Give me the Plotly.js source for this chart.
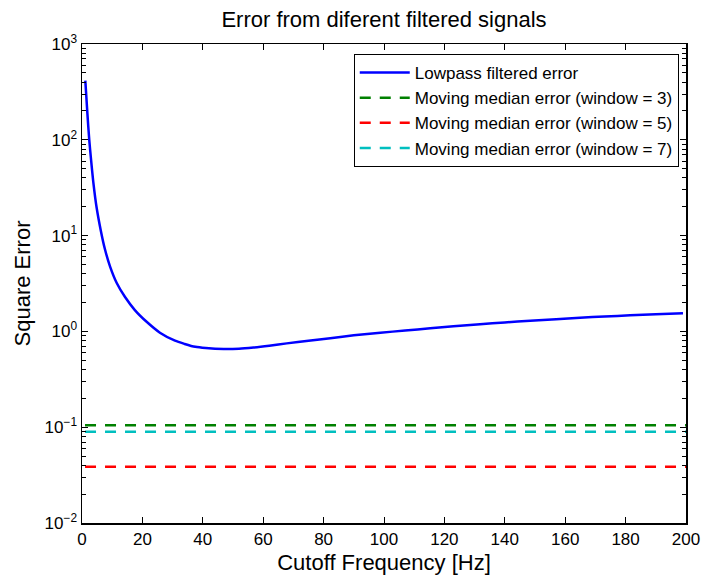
<!DOCTYPE html>
<html>
<head>
<meta charset="utf-8">
<script src="https://cdn.plot.ly/plotly-3.0.1.min.js"></script>
<style>html,body{margin:0;padding:0;background:#fff;}#chart{width:702px;height:577px;}</style>
</head>
<body>
<div id="chart"></div>
<script>
// Lowpass filtered error
var cutoffHz = [1.1, 1.8, 2.4, 3.0, 3.75, 4.85, 6.2, 7.6, 9.3, 11.5, 14.2, 17.5, 21.4, 25.8, 30.8, 34, 37.5, 41, 46.9, 52, 56.8, 62, 67.8, 75, 82.2, 90, 98.8, 107, 115.3, 123, 131.8, 140, 148.4, 157, 164.9, 173, 181.5, 190, 199];
var lowpassErr = [414, 185, 100, 62, 36, 19.5, 11.4, 7.2, 4.75, 3.2, 2.3, 1.67, 1.26, 0.97, 0.80, 0.74, 0.69, 0.67, 0.655, 0.66, 0.68, 0.71, 0.75, 0.80, 0.85, 0.91, 0.97, 1.02, 1.08, 1.13, 1.19, 1.24, 1.29, 1.34, 1.39, 1.43, 1.47, 1.51, 1.55];

// Moving median errors (constant)
var medianX = [1, 200];
var median3 = [0.105, 0.105];
var median5 = [0.0387, 0.0387];
var median7 = [0.0897, 0.0897];

var seriesNames = ['Lowpass filtered error', 'Moving median error (window = 3)', 'Moving median error (window = 5)', 'Moving median error (window = 7)'];

var xTicks = [0, 20, 40, 60, 80, 100, 120, 140, 160, 180, 200];
var yTickVals = [0.01, 0.1, 1, 10, 100, 1000];
var yTickText = ['10<sup>−2</sup>', '10<sup>−1</sup>', '10<sup>0</sup>', '10<sup>1</sup>', '10<sup>2</sup>', '10<sup>3</sup>'];

var FONT = 'Liberation Sans, Arial, Helvetica, sans-serif';
var dashStyle = '11px,9px';

var traces = [
  {x: cutoffHz, y: lowpassErr, name: seriesNames[0], mode: 'lines', line: {color: '#0000ff', width: 2.5, shape: 'spline', smoothing: 0.8}},
  {x: medianX, y: median3, name: seriesNames[1], mode: 'lines', line: {color: '#008000', width: 2.5, dash: dashStyle}},
  {x: medianX, y: median5, name: seriesNames[2], mode: 'lines', line: {color: '#ff0000', width: 2.5, dash: dashStyle}},
  {x: medianX, y: median7, name: seriesNames[3], mode: 'lines', line: {color: '#00bfbf', width: 2.5, dash: dashStyle}}
];

var layout = {
  width: 702, height: 577,
  margin: {l: 82, r: 16, t: 44, b: 54},
  paper_bgcolor: '#ffffff', plot_bgcolor: '#ffffff',
  font: {family: FONT, color: '#000', size: 17},
  title: {text: 'Error from diferent filtered signals', font: {family: FONT, size: 22, color: '#000'}, x: 0.5, xref: 'paper', y: 0.966, yref: 'container', xanchor: 'center', yanchor: 'middle'},
  showlegend: true,
  legend: {x: 0.988, y: 0.979, xanchor: 'right', yanchor: 'top', bgcolor: '#ffffff', bordercolor: '#000', borderwidth: 1, font: {family: FONT, size: 17, color: '#000'}, tracegroupgap: 0, itemwidth: 50},
  xaxis: {
    range: [0, 200], tickvals: xTicks, ticks: 'inside', ticklen: 6, tickwidth: 1, tickcolor: '#000',
    showline: true, linecolor: '#000', linewidth: 1.5, mirror: 'allticks', showgrid: false, zeroline: false,
    tickfont: {family: FONT, size: 17, color: '#000'},
    title: {text: 'Cutoff Frequency [Hz]', font: {family: FONT, size: 22, color: '#000'}, standoff: 6}
  },
  yaxis: {
    type: 'log', range: [-2, 3], tickvals: yTickVals, ticktext: yTickText, ticks: 'inside', ticklen: 6, tickwidth: 1, tickcolor: '#000',
    showline: true, linecolor: '#000', linewidth: 1.5, mirror: 'allticks', showgrid: false, zeroline: false,
    tickfont: {family: FONT, size: 17, color: '#000'},
    minor: {ticks: 'inside', ticklen: 4, tickwidth: 1, tickcolor: '#000', dtick: 'D1', showgrid: false},
    title: {text: 'Square Error', font: {family: FONT, size: 22, color: '#000'}, standoff: 8}
  }
};

Plotly.newPlot('chart', traces, layout, {displayModeBar: false, staticPlot: true});
</script>
</body>
</html>
